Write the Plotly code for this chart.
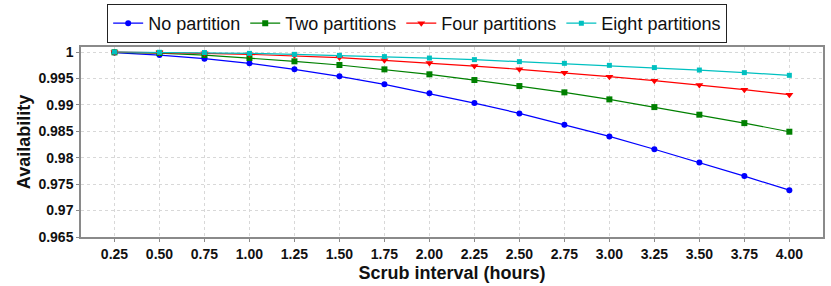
import plotly.graph_objects as go

x_values = [0.25, 0.50, 0.75, 1.00, 1.25, 1.50, 1.75, 2.00, 2.25, 2.50, 2.75, 3.00, 3.25, 3.50, 3.75, 4.00]
tick_labels = ["0.25", "0.50", "0.75", "1.00", "1.25", "1.50", "1.75", "2.00",
               "2.25", "2.50", "2.75", "3.00", "3.25", "3.50", "3.75", "4.00"]
y_ticks = [0.965, 0.97, 0.975, 0.98, 0.985, 0.99, 0.995, 1.0]
y_tick_labels = ["0.965", "0.97", "0.975", "0.98", "0.985", "0.99", "0.995", "1"]

no_partition = [0.9999, 0.99943, 0.99875, 0.99786, 0.99672, 0.9954, 0.99388, 0.99218,
                0.99034, 0.98839, 0.98625, 0.98403, 0.98160, 0.97911, 0.97652, 0.97386]
two_partitions = [0.99994, 0.99981, 0.99943, 0.99886, 0.99824, 0.99754, 0.99672, 0.99578,
                  0.9947, 0.99356, 0.99237, 0.99104, 0.98958, 0.98814, 0.98655, 0.98492]
four_partitions = [0.99998, 0.99992, 0.99975, 0.99956, 0.99932, 0.99894, 0.99843, 0.99792,
                   0.99735, 0.99672, 0.9961, 0.99534, 0.99458, 0.99375, 0.99288, 0.99193]
eight_partitions = [1.0, 0.99995, 0.9999, 0.99975, 0.99956, 0.99937, 0.99913, 0.99886,
                    0.99856, 0.99818, 0.99786, 0.99748, 0.99705, 0.99659, 0.9961, 0.99559]

series = [
    ("No partition", no_partition, "#0000FF", "circle", 6),
    ("Two partitions", two_partitions, "#008000", "square", 6),
    ("Four partitions", four_partitions, "#FF0000", "triangle-down", 7),
    ("Eight partitions", eight_partitions, "#00C0C0", "square", 5),
]

fig = go.Figure()
for name, vals, color, sym, size in series:
    fig.add_trace(go.Scatter(
        x=x_values, y=vals, name=name, mode="lines+markers",
        line=dict(color=color, width=1.2),
        marker=dict(color=color, symbol=sym, size=size),
    ))

font_family = "Liberation Sans, Arial, sans-serif"
axis_common = dict(
    tickfont=dict(size=14, family=font_family, color="#111111", weight="bold"),
    showgrid=True, gridcolor="#D8D8D8", griddash="dot", gridwidth=1,
    showline=True, linecolor="#8A8A8A", linewidth=1.5, mirror=True,
    ticks="outside", ticklen=3, tickcolor="#8A8A8A",
    zeroline=False, automargin=False,
)
fig.update_layout(
    width=831, height=286,
    margin=dict(l=81, r=8, t=47, b=49, autoexpand=False),
    paper_bgcolor="white", plot_bgcolor="white",
    font=dict(family=font_family, color="black"),
    showlegend=True,
    legend=dict(
        orientation="h", x=0.502, xref="container", xanchor="center",
        y=0.918, yref="container", yanchor="middle",
        font=dict(size=18, family=font_family, color="#111111"),
        bordercolor="#222222", borderwidth=1, bgcolor="white",
        itemwidth=30, tracegroupgap=0,
    ),
    xaxis=dict(
        range=[0.064, 4.187], tickmode="array", tickvals=x_values, ticktext=tick_labels,
        title=dict(text="Scrub interval (hours)", standoff=6,
                   font=dict(size=18, family=font_family, color="#111111", weight="bold")),
        **axis_common,
    ),
    yaxis=dict(
        range=[0.965, 1.00095], tickmode="array", tickvals=y_ticks, ticktext=y_tick_labels,
        title=dict(text="Availability", standoff=3,
                   font=dict(size=18, family=font_family, color="#111111", weight="bold")),
        **axis_common,
    ),
)

fig.write_html(
    "out.html",
    config={"displayModeBar": False},
    post_script="document.body.style.margin='0px';document.body.style.overflow='hidden';",
)
